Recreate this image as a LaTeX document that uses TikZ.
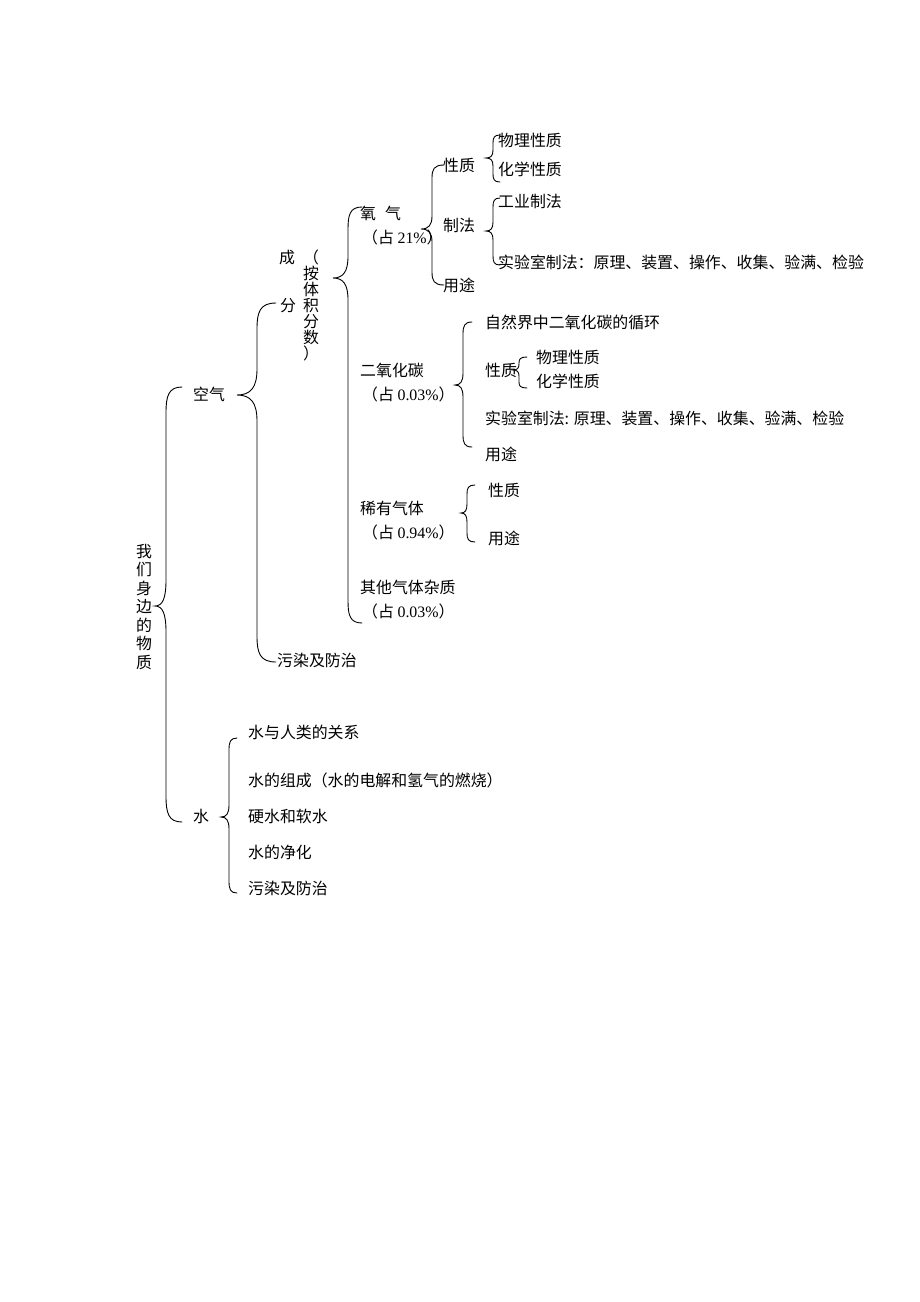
\documentclass[tikz,border=0pt]{standalone}
\usepackage{fontspec}
\setmainfont{Liberation Serif}
\newfontfamily\cjk{Noto Sans CJK SC}

% curly brace: line x, tip x, end x, top y, tip y, bottom y, curl
\newcommand\curlybrace[7]{%
	\draw[bracket] (#3,#4) .. controls ({#1+0.15*(#3-#1)},#4) and (#1,#4+0.35*#7) .. (#1,#4+#7)
		-- (#1,#5-#7) .. controls (#1,#5-0.3*#7) and ({#1-0.3*(#1-#2)},#5) .. (#2,#5)
		.. controls ({#1-0.3*(#1-#2)},#5) and (#1,#5+0.3*#7) .. (#1,#5+#7)
		-- (#1,#6-#7) .. controls (#1,#6-0.35*#7) and ({#1+0.15*(#3-#1)},#6) .. (#3,#6);%
}

\begin{document}
\begin{tikzpicture}[x=1pt, y=-1pt,
		every node/.style={font=\cjk\fontsize{15.9}{18.5}\selectfont, inner sep=0pt, anchor=west},
		upright/.style={anchor=center, align=center},
		bracket/.style={line width=0.9pt, line cap=round}]
		\fill[white] (0,0) rectangle (920,1302);
		\useasboundingbox (0,0) rectangle (920,1302);

		% root and first level
		\node[upright] (root) at (144,607) {我\\们\\身\\边\\的\\物\\质};
		\node (air) at (193,394) {空气};
		\node (water) at (193,816) {水};
		\curlybrace{166}{155}{182}{387}{606}{822}{26}

		% air
		\node (cheng) at (279,258) {成};
		\node (fen) at (280,306) {分};
		\node[upright, font=\cjk\fontsize{15.9}{16}\selectfont] (byvol) at (311,305) {（\\按\\体\\积\\分\\数\\）};
		\node (airpol) at (277,660) {污染及防治};
		\curlybrace{257}{237}{276}{303}{395}{662}{26}

		% components by volume
		\foreach \name/\y/\txt/\share in {%
			o2/213/{氧\hspace{9pt}气}/21,
			co2/370/二氧化碳/0.03,
			rare/508/稀有气体/0.94,
			other/587/其他气体杂质/0.03%
		}{
			\node (\name) at (360,\y) {\txt};
			\node (\name pct) at (362,\y+24) {（占 {\rmfamily\share\%}）};
		}
		\curlybrace{348}{333}{362}{207}{278}{623}{22}

		% oxygen
		\node (o2prop) at (443,165) {性质};
		\node (o2make) at (443,225) {制法};
		\node (o2use) at (443,285) {用途};
		\curlybrace{432}{421}{444}{165}{229}{285}{13}
		\node (o2phys) at (498,140) {物理性质};
		\node (o2chem) at (498,169) {化学性质};
		\curlybrace{493}{486}{500}{135}{158}{182}{8}
		\node (o2ind) at (498,201) {工业制法};
		\node (o2lab) at (498,262) {实验室制法：原理、装置、操作、收集、验满、检验};
		\curlybrace{493}{486}{500}{198}{231}{265}{9}

		% carbon dioxide
		\node (co2cyc) at (485,322) {自然界中二氧化碳的循环};
		\node (co2prop) at (485,370) {性质};
		\node (co2lab) at (485,418) {实验室制法: 原理、装置、操作、收集、验满、检验};
		\node (co2use) at (485,454) {用途};
		\curlybrace{463}{455}{472}{322}{385}{447}{12}
		\node (co2phys) at (536,357) {物理性质};
		\node (co2chem) at (536,381) {化学性质};
		\curlybrace{519}{513}{527}{357}{370}{388}{6}

		% rare gases
		\node (rareprop) at (488,490) {性质};
		\node (rareuse) at (488,538) {用途};
		\curlybrace{467}{461}{475}{485}{513}{542}{9}

		% water
		\foreach \y/\txt [count=\i] in {%
			732/水与人类的关系,
			780/水的组成（水的电解和氢气的燃烧）,
			816/硬水和软水,
			852/水的净化,
			888/污染及防治%
		}{
			\node (w\i) at (248,\y) {\txt};
		}
		\curlybrace{229}{221}{237}{738}{817}{893}{12}

	\end{tikzpicture}
\end{document}
